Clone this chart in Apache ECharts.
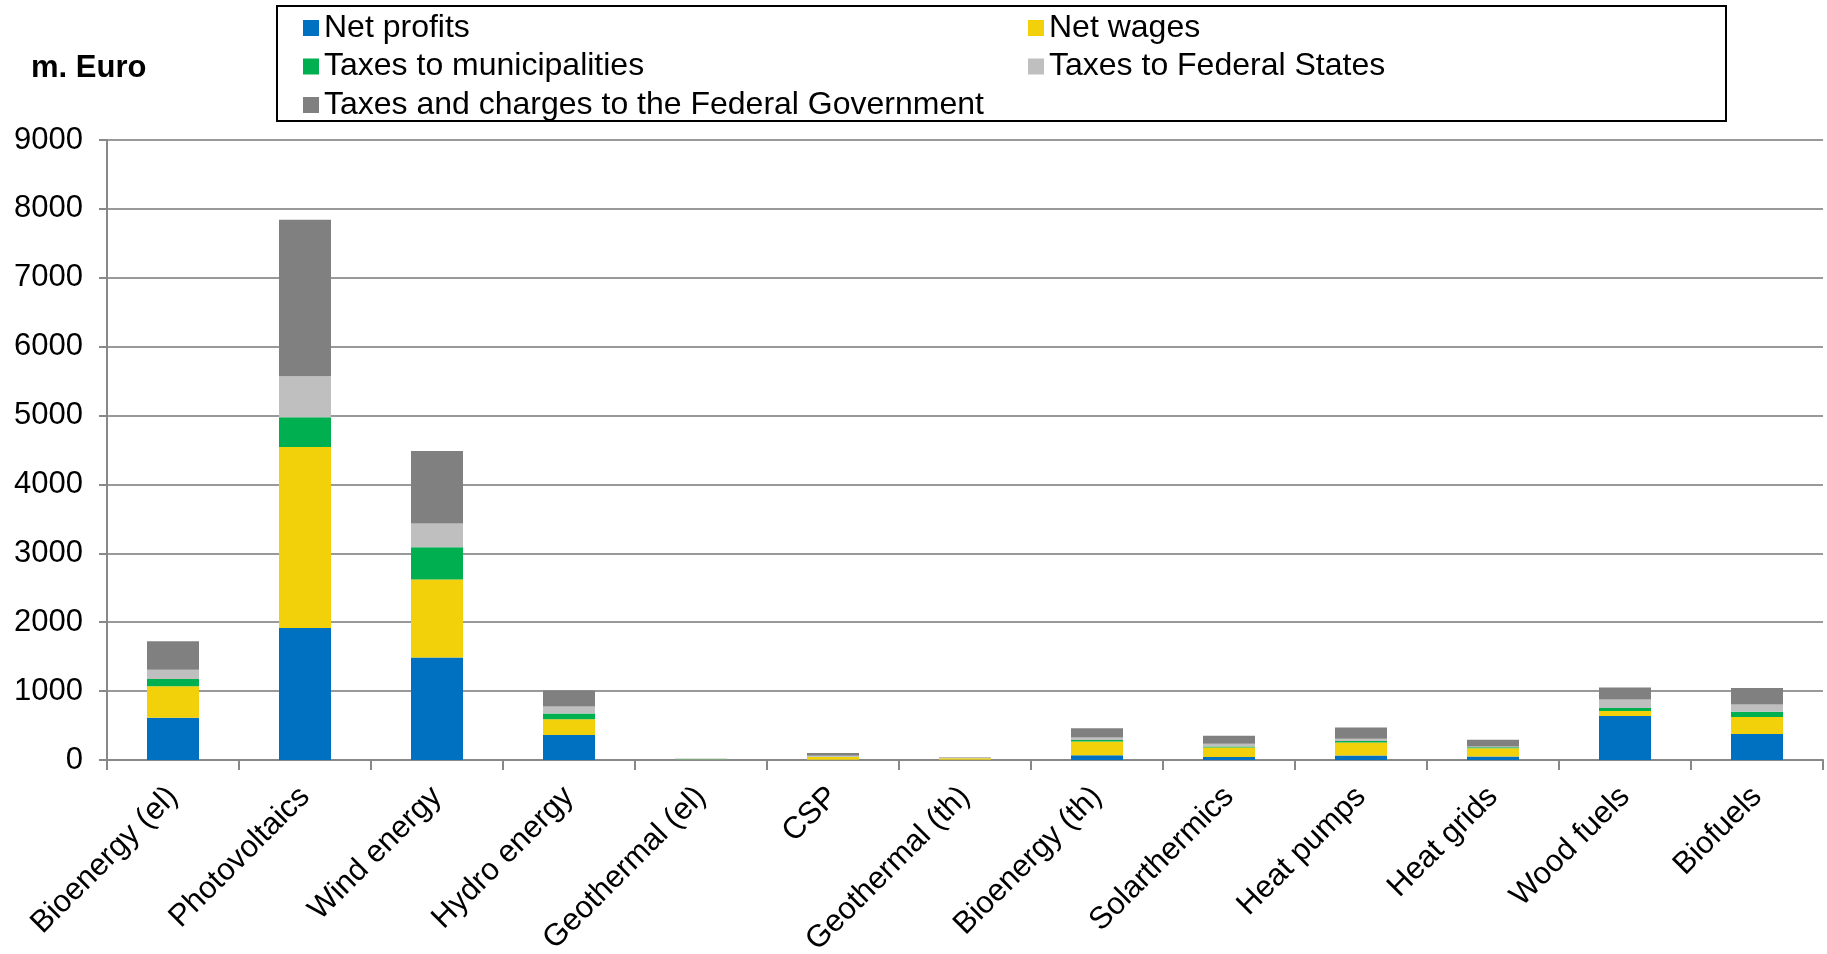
<!DOCTYPE html>
<html>
<head>
<meta charset="utf-8">
<script src="https://cdn.jsdelivr.net/npm/echarts@6/dist/echarts.min.js"></script>
<style>
html, body { margin: 0; padding: 0; background: #fff; }
#main { width: 1827px; height: 954px; }
</style>
</head>
<body>
<div id="main"></div>
<script>
var categories = ['Bioenergy (el)', 'Photovoltaics', 'Wind energy', 'Hydro energy', 'Geothermal (el)', 'CSP',
    'Geothermal (th)', 'Bioenergy (th)', 'Solarthermics', 'Heat pumps', 'Heat grids', 'Wood fuels', 'Biofuels'];

var netProfits      = [615, 1915, 1488, 363, 3, 5, 3, 69, 44, 64, 49, 637, 377];
var netWages        = [455, 2630, 1131, 230, 6, 40, 22, 201, 137, 191, 123, 74, 246];
var taxMunicipal    = [106, 430, 469, 83, 2, 3, 2, 19, 15, 20, 14, 44, 78];
var taxStates       = [133, 597, 344, 99, 2, 12, 12, 39, 39, 34, 10, 122, 103];
var taxFederal      = [416, 2270, 1054, 235, 4, 40, 6, 133, 118, 162, 98, 177, 240];

var yTicks = { min: 0, max: 9000, interval: 1000 };

var font = '"Liberation Sans", Arial, sans-serif';

var myChart = echarts.init(document.getElementById('main'));

function bar(name, data, color) {
    return {
        name: name,
        type: 'bar',
        stack: 'total',
        barWidth: 52,
        data: data,
        itemStyle: { color: color },
        emphasis: { disabled: true }
    };
}

var legendText = { fontFamily: font, fontSize: 32, lineHeight: 34, color: '#000' };

var option = {
    animation: false,
    textStyle: { fontFamily: font },
    title: {
        text: 'm. Euro',
        left: 26,
        top: 48,
        textStyle: { fontFamily: font, fontSize: 31, fontWeight: 'bold', color: '#000' }
    },
    graphic: [{
        type: 'rect',
        shape: { x: 277, y: 6, width: 1449, height: 115 },
        style: { fill: 'none', stroke: '#000', lineWidth: 2 }
    }],
    legend: [
        {
            orient: 'vertical',
            left: 298,
            top: 6,
            itemWidth: 16,
            itemHeight: 16,
            itemGap: 4.5,
            icon: 'rect',
            textStyle: legendText,
            data: ['Net profits', 'Taxes to municipalities', 'Taxes and charges to the Federal Government']
        },
        {
            orient: 'vertical',
            left: 1023,
            top: 6,
            itemWidth: 16,
            itemHeight: 16,
            itemGap: 4.5,
            icon: 'rect',
            textStyle: legendText,
            data: ['Net wages', 'Taxes to Federal States']
        }
    ],
    grid: {
        left: 107,
        right: 4,
        top: 140,
        bottom: 194,
        containLabel: false,
        outerBoundsMode: 'none'
    },
    xAxis: {
        type: 'category',
        data: categories,
        axisLine: { lineStyle: { color: '#888', width: 2 } },
        axisTick: { show: true, length: 10, lineStyle: { color: '#888', width: 2 } },
        axisLabel: {
            rotate: 45,
            margin: 32,
            fontFamily: font,
            fontSize: 31,
            color: '#000'
        }
    },
    yAxis: {
        type: 'value',
        min: yTicks.min,
        max: yTicks.max,
        interval: yTicks.interval,
        axisLine: { show: true, lineStyle: { color: '#888', width: 2 } },
        axisTick: { show: true, length: 8, lineStyle: { color: '#888', width: 2 } },
        splitLine: { lineStyle: { color: '#999', width: 2 } },
        axisLabel: {
            margin: 24,
            fontFamily: font,
            fontSize: 31,
            color: '#000',
            formatter: function (v) { return String(v); }
        }
    },
    series: [
        bar('Net profits', netProfits, '#0070C0'),
        bar('Net wages', netWages, '#F2D10A'),
        bar('Taxes to municipalities', taxMunicipal, '#00B050'),
        bar('Taxes to Federal States', taxStates, '#BFBFBF'),
        bar('Taxes and charges to the Federal Government', taxFederal, '#808080')
    ]
};

myChart.setOption(option);
</script>
</body>
</html>
